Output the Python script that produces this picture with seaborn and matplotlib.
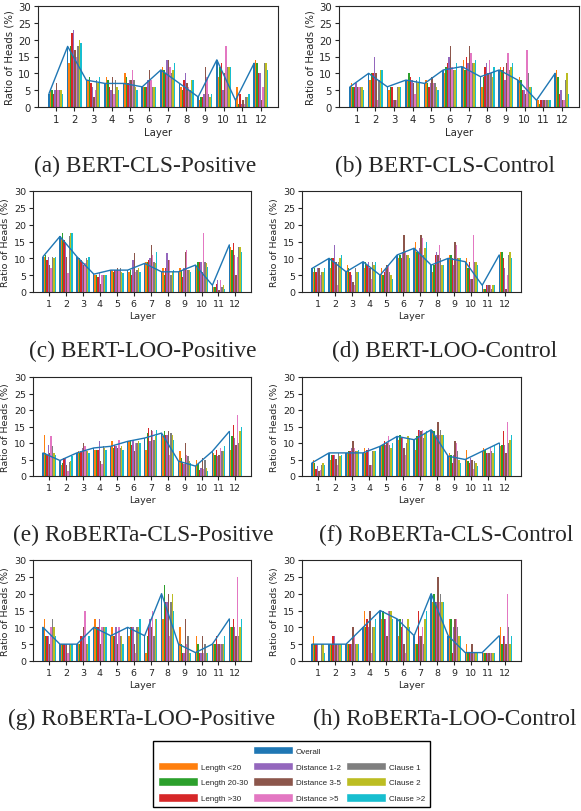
import numpy as np
import pandas as pd
import matplotlib
matplotlib.use('Agg')
import matplotlib.pyplot as plt
from matplotlib.patches import Patch
import seaborn as sns

layers = list(range(1, 13))
groups = ['Overall', 'Length <20', 'Length 20-30', 'Length >30',
          'Distance 1-2', 'Distance 3-5', 'Distance >5',
          'Clause 1', 'Clause 2', 'Clause >2']
colors = sns.color_palette('tab10', 10)

titles = ['(a) BERT-CLS-Positive', '(b) BERT-CLS-Control',
          '(c) BERT-LOO-Positive', '(d) BERT-LOO-Control',
          '(e) RoBERTa-CLS-Positive', '(f) RoBERTa-CLS-Control',
          '(g) RoBERTa-LOO-Positive', '(h) RoBERTa-LOO-Control']

# rows follow `groups`, columns follow `layers`
bert_cls_pos = [
    [4, 18, 8, 7, 7, 6, 11, 7, 3, 14, 2, 13],
    [5, 13, 8, 9, 10, 6, 12, 6, 2, 9, 6, 14],
    [5, 18, 9, 8, 9, 6, 11, 5, 3, 12, 1, 13],
    [4, 22, 7, 6, 7, 6, 10, 8, 3, 13, 4, 10],
    [5, 23, 6, 5, 8, 8, 14, 10, 4, 5, 1, 10],
    [7, 17, 3, 9, 8, 11, 14, 7, 12, 10, 2, 2],
    [5, 15, 5, 4, 11, 8, 12, 6, 9, 18, 1, 6],
    [5, 18, 8, 8, 8, 6, 10, 5, 4, 12, 3, 13],
    [5, 20, 7, 6, 6, 6, 11, 8, 3, 12, 3, 13],
    [4, 19, 9, 5, 5, 6, 13, 8, 4, 12, 4, 11],
]
bert_cls_ctrl = [
    [6, 10, 6, 8, 7, 11, 12, 9, 11, 8, 2, 10],
    [7, 8, 5, 8, 8, 10, 14, 6, 12, 9, 2, 11],
    [6, 10, 6, 10, 7, 12, 11, 9, 11, 8, 1, 9],
    [6, 10, 6, 9, 6, 13, 15, 12, 12, 5, 2, 4],
    [7, 15, 2, 8, 7, 15, 13, 13, 8, 5, 2, 5],
    [6, 10, 2, 7, 9, 18, 18, 10, 13, 4, 2, 2],
    [6, 2, 2, 4, 7, 12, 16, 14, 16, 17, 2, 2],
    [6, 8, 6, 8, 7, 11, 13, 10, 11, 10, 2, 8],
    [6, 11, 6, 7, 6, 11, 13, 9, 12, 6, 2, 10],
    [5, 11, 6, 9, 5, 13, 14, 12, 13, 6, 2, 4],
]
bert_loo_pos = [
    [10.5, 16.5, 10.5, 5.3, 6.5, 6.5, 8.5, 6, 6, 8, 2, 14],
    [10.5, 16, 10, 5, 6.5, 6, 9, 7, 7, 7.5, 1.5, 13.5],
    [11, 17.5, 10, 5, 6, 6.5, 9, 5, 6.5, 9, 1.5, 12.5],
    [9.5, 15.5, 9.5, 4.5, 6.5, 5, 9.5, 7, 4.5, 9, 2.5, 14.5],
    [10.5, 15, 8.5, 5.5, 6.5, 9.5, 10, 11.5, 7, 9, 3.5, 11],
    [8, 10.5, 8, 2.5, 7, 11.5, 14, 9.5, 12, 6, 0.5, 5],
    [7, 5.5, 8.5, 5, 6.5, 6, 11, 9.5, 12.5, 17.5, 3.5, 10.5],
    [10.5, 16.5, 10, 5, 7, 6.5, 9, 5, 6.5, 9, 1.5, 13.5],
    [10, 17.5, 9.5, 5, 6, 7, 8.5, 6, 6.5, 8.5, 2, 13.5],
    [10.5, 17.5, 10.5, 5, 5.5, 6, 12, 6.5, 6, 7.5, 1, 12],
]
bert_loo_ctrl = [
    [7, 10, 6, 9, 5, 11, 13, 8, 10, 9, 2, 11],
    [6, 7, 8, 7, 7, 10, 15, 6, 11, 10, 1, 12],
    [7, 10, 7, 9, 5, 11, 12, 8, 11, 7, 1, 12],
    [6, 10, 6, 8, 6, 10, 12, 11, 10, 9, 2, 10],
    [7, 14, 5, 9, 7, 12, 13, 12, 8, 4, 2, 7],
    [7, 9, 3, 7, 8, 17, 17, 11, 15, 4, 2, 1],
    [5, 2, 2, 4, 8, 12, 16, 14, 14, 17, 2, 5],
    [6, 9, 7, 9, 6, 11, 11, 10, 10, 9, 1, 11],
    [6, 10, 6, 8, 5, 11, 13, 8, 10, 9, 2, 12],
    [7, 11, 6, 9, 4, 10, 15, 8, 10, 8, 2, 10],
]
roberta_cls_pos = [
    [7, 4.7, 7, 8.5, 9, 10.5, 11.5, 13, 4.5, 3, 7.5, 13.5],
    [12.5, 3.4, 7.5, 8, 10.5, 10.5, 8, 12, 7.6, 4.8, 7, 8],
    [7, 4, 7, 8, 8.5, 11, 13, 13.5, 5.5, 3.5, 6.5, 12],
    [6.5, 5.4, 7.5, 8, 9.5, 9.5, 14.5, 12.5, 3.8, 1.8, 7.8, 15.5],
    [9.3, 5.4, 8.5, 10.5, 9, 11, 10.5, 12.5, 3.5, 2.5, 6.2, 11.5],
    [7, 3.4, 10, 4.5, 8.5, 7.5, 14, 13.5, 10, 5.5, 6.3, 9.5],
    [12, 1.6, 9, 3.5, 11, 10, 13.5, 6.5, 6.3, 2, 8.5, 18.5],
    [9, 4.3, 7.5, 9, 8.5, 10, 11, 13, 6, 4.8, 7.5, 10],
    [7, 4.5, 7.5, 8.5, 9, 10.5, 12, 12.5, 4.5, 2.5, 7.5, 13.5],
    [6.5, 6.2, 7, 8, 8, 10, 14, 11, 3.8, 1.5, 9.2, 15],
]
roberta_cls_ctrl = [
    [4, 7, 7, 7, 9, 12, 11, 14, 6, 5, 7.5, 10],
    [4.7, 4.8, 7, 8.5, 9, 11, 8, 14, 7, 8, 8.5, 9],
    [4, 6.3, 7.5, 7, 9.5, 12.5, 12, 13.5, 6.5, 4.5, 8, 9.5],
    [2, 6.3, 7.5, 8, 10.5, 11.5, 14, 12, 4, 4, 7, 13.5],
    [3, 6.3, 8.5, 8.5, 9.5, 11.5, 14, 12.5, 6.5, 5.5, 7, 9.5],
    [1.5, 5.3, 10.5, 3.4, 10, 8.5, 13.5, 16.5, 10.5, 5, 7, 7],
    [1.8, 3.4, 8.5, 3.4, 12, 6.3, 14, 12.5, 10, 2, 8.5, 16.5],
    [3.3, 7, 7.5, 7.6, 9.5, 10, 11.5, 14, 7.5, 4.5, 7.5, 10],
    [3.9, 6, 7.5, 7.6, 8.5, 12, 13, 12.5, 5, 4, 7, 11],
    [3.3, 6.3, 7.8, 7.6, 10, 11.5, 13.5, 12.5, 4, 3, 9.5, 12.5],
]
roberta_loo_pos = [
    [10, 5, 5, 10, 7.5, 10, 7.5, 20, 5, 2.5, 5, 12.5],
    [12.5, 5, 5, 12.5, 10, 7.5, 2.5, 12.5, 10, 7.5, 5, 10],
    [7.5, 5, 5, 10, 7.5, 10, 7.5, 22.5, 5, 5, 5, 10],
    [7.5, 5, 7.5, 10, 7.5, 10, 10, 17.5, 2.5, 2.5, 7.5, 12.5],
    [7.5, 5, 7.5, 12.5, 10, 10, 12.5, 17.5, 2.5, 2.5, 5, 10],
    [5, 5, 10, 5, 5, 5, 10, 20, 12.5, 7.5, 5, 7.5],
    [10, 2.5, 15, 10, 10, 2.5, 15, 7.5, 5, 2.5, 5, 25],
    [12.5, 5, 5, 10, 7.5, 10, 7.5, 17.5, 7.5, 5, 5, 7.5],
    [10, 5, 5, 10, 7.5, 10, 12.5, 20, 2.5, 2.5, 5, 10],
    [7.5, 5, 7.5, 10, 5, 12.5, 12.5, 15, 2.5, 2.5, 7.5, 12.5],
]
roberta_loo_ctrl = [
    [5, 5, 5, 10, 15, 12.5, 7.5, 20, 7.5, 2.5, 2.5, 7.5],
    [7.5, 5, 5, 15, 12.5, 7.5, 5, 17.5, 12.5, 5, 2.5, 10],
    [5, 5, 5, 10, 15, 12.5, 5, 20, 12.5, 2.5, 2.5, 5],
    [5, 7.5, 5, 12.5, 12.5, 10, 15, 17.5, 2.5, 2.5, 2.5, 7.5],
    [5, 7.5, 5, 10, 12.5, 12.5, 7.5, 17.5, 10, 2.5, 2.5, 7.5],
    [0, 5, 10, 15, 7.5, 5, 7.5, 25, 12.5, 5, 2.5, 5],
    [0, 5, 7.5, 2.5, 15, 2.5, 10, 17.5, 12.5, 2.5, 2.5, 20],
    [5, 5, 5, 10, 15, 10, 5, 20, 10, 2.5, 2.5, 10],
    [5, 5, 5, 10, 15, 12.5, 12.5, 17.5, 7.5, 2.5, 2.5, 5],
    [2.5, 5, 5, 12.5, 12.5, 10, 15, 17.5, 7.5, 2.5, 2.5, 7.5],
]

panels = [bert_cls_pos, bert_cls_ctrl, bert_loo_pos, bert_loo_ctrl,
          roberta_cls_pos, roberta_cls_ctrl, roberta_loo_pos, roberta_loo_ctrl]

sns.set_style('ticks')
plt.rcParams['font.family'] = ['DejaVu Sans']

W, H = 581, 812
fig = plt.figure(figsize=(W / 100, H / 100), dpi=100)

# axes boxes in pixels: left, top, right, bottom
boxes = [(38, 7, 278, 108), (339, 7, 579, 108),
         (33, 192, 251, 293), (302, 192, 521, 293),
         (33, 378, 251, 477), (302, 378, 521, 477),
         (33, 561, 251, 662), (302, 561, 521, 662)]
caption_pos = [(145, 166), (445, 166), (143, 351), (445, 351),
               (143, 535), (446, 535), (142, 719), (445, 719)]

for k, (data, title) in enumerate(zip(panels, titles)):
    l, t, r, b = boxes[k]
    ax = fig.add_axes([l / W, 1 - b / H, (r - l) / W, (b - t) / H])
    df = pd.DataFrame({
        'layer': np.tile(layers, len(groups)),
        'group': np.repeat(groups, len(layers)),
        'value': np.concatenate(data),
    })
    sns.barplot(data=df, x='layer', y='value', hue='group', hue_order=groups,
                palette=colors, width=0.8, saturation=1, linewidth=0,
                errorbar=None, legend=False, ax=ax)
    # overall trend line through the tops of the Overall bars
    bars = ax.containers[0]
    xs = [p.get_x() + p.get_width() / 2 for p in bars]
    ys = [p.get_height() for p in bars]
    ax.plot(xs, ys, color=colors[0], lw=1)

    fs = 7.3 if k < 2 else 6.8
    ax.set_xlim(-0.95, 11.92)
    ax.set_ylim(0, 30)
    ax.set_yticks(range(0, 31, 5))
    ax.set_xlabel('Layer', fontsize=fs, labelpad=2)
    ax.set_ylabel('Ratio of Heads (%)', fontsize=fs, labelpad=3)
    ax.tick_params(labelsize=fs, length=3, width=0.8, pad=2)
    for s in ax.spines.values():
        s.set_linewidth(0.8)

    cx, cy = caption_pos[k]
    fig.text(cx / W, 1 - cy / H, title, ha='center', va='center',
             family='Liberation Serif', fontsize=16.8)

blank = Patch(facecolor='none', edgecolor='none')
order = [None, 1, 2, 3, 0, 4, 5, 6, None, 7, 8, 9]
handles = [blank if i is None else Patch(facecolor=colors[i]) for i in order]
labels = ['' if i is None else groups[i] for i in order]
fig.legend(handles, labels, ncol=3, loc='upper center',
           bbox_to_anchor=(291.5 / W, 1 - 738 / H), frameon=True,
           fancybox=False, edgecolor='black', framealpha=1,
           prop={'family': 'Liberation Sans', 'size': 5.8},
           handlelength=5, handleheight=1.25, handletextpad=0.4,
           columnspacing=0.55, labelspacing=0.85, borderpad=0.6)

fig.savefig('out.png', dpi=100)
